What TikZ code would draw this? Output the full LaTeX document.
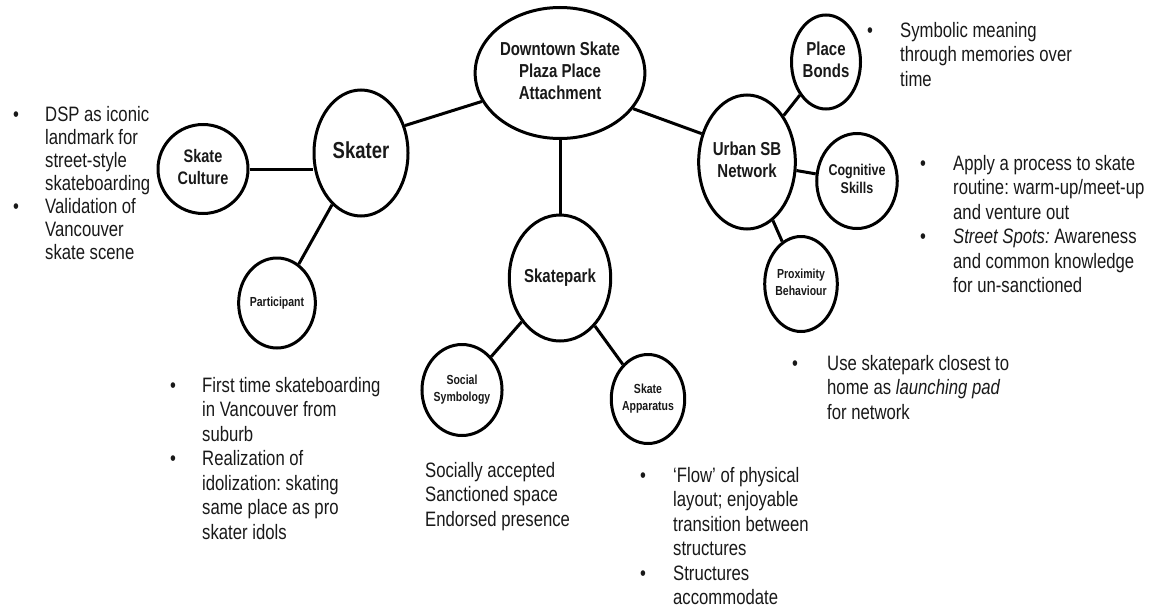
\documentclass[tikz,border=0pt]{standalone}
\usepackage{fontspec}
\setmainfont{Liberation Sans}
\usepackage{graphicx}
\usepackage{tikz}
\usetikzlibrary{shapes.geometric}
\definecolor{ink}{RGB}{25,25,25}
\frenchspacing
\newcommand{\bul}[1][32pt]{\makebox[#1][l]{\textbullet}}
\newcommand{\tall}[1]{\scalebox{1}[1.25]{\begin{tabular}{@{}c@{}}#1\end{tabular}}}
\newcommand{\talllist}[1]{\scalebox{1}[1.25]{\begin{tabular}[t]{@{}l@{}l@{}}#1\end{tabular}}}

\begin{document}
\begin{tikzpicture}[x=1pt,y=-1pt,
    bubble/.style={ellipse,draw=black,line width=3pt,inner sep=0pt,text=ink},
    link/.style={line width=3pt},
    notes/.style={anchor=base west,inner sep=0pt,text=ink,font=\fontsize{16.7}{19.6}\selectfont}]
  \useasboundingbox (0,0) rectangle (1153,613);
  \node[bubble,minimum width=153,minimum height=131,font=\fontsize{15}{17.6}\selectfont\bfseries] (dsp) at (560,73) {\tall{Downtown Skate\\Plaza Place\\Attachment}};
  \node[bubble,minimum width=94,minimum height=126,font=\fontsize{18.5}{18}\selectfont\bfseries] (skater) at (361,153) {\tall{Skater}};
  \node[bubble,minimum width=90,minimum height=89,font=\fontsize{14.5}{17.6}\selectfont\bfseries] (culture) at (203,169) {\tall{Skate\\Culture}};
  \node[bubble,minimum width=70,minimum height=90,font=\fontsize{10.5}{13}\selectfont\bfseries] (part) at (277,303) {\tall{Participant}};
  \node[bubble,minimum width=90,minimum height=126,font=\fontsize{15}{17.6}\selectfont\bfseries] (park) at (560,278) {\tall{Skatepark}};
  \node[bubble,minimum width=72,minimum height=91,font=\fontsize{10.5}{13.6}\selectfont\bfseries] (social) at (462,390) {\tall{Social\\Symbology}};
  \node[bubble,minimum width=70,minimum height=89,font=\fontsize{10.5}{13.6}\selectfont\bfseries] (app) at (648,399) {\tall{Skate\\Apparatus}};
  \node[bubble,minimum width=87,minimum height=134,font=\fontsize{15}{17.6}\selectfont\bfseries] (urban) at (747,162) {\tall{Urban SB\\Network}};
  \node[bubble,minimum width=69,minimum height=94,font=\fontsize{15}{17.6}\selectfont\bfseries] (bonds) at (826,62) {\tall{Place\\Bonds}};
  \node[bubble,minimum width=64,minimum height=95,font=\fontsize{12.5}{14.4}\selectfont\bfseries] (cog) at (857,181) {\tall{Cognitive\\Skills}};
  \node[bubble,minimum width=69,minimum height=95,font=\fontsize{10.5}{13.6}\selectfont\bfseries] (prox) at (801,284) {\tall{Proximity\\Behaviour}};

  \draw[link] (dsp.200) -- (skater.32);
  \draw[link] (dsp) -- (park);
  \draw[link] (dsp.334) -- (urban.148);
  \draw[link] (culture.east) -- (culture.east -| skater.west);
  \draw[link] (skater) -- (part);
  \draw[link] (park) -- (social);
  \draw[link] (park) -- (app);
  \draw[link] (urban) -- (bonds);
  \draw[link] (urban) -- (cog);
  \draw[link] (urban) -- (prox);

  \node[notes,font=\fontsize{16.7}{18.4}\selectfont] (culturenote) at (13,121) {\talllist{
    \bul & DSP as iconic\\ & landmark for\\ & street-style\\ & skateboarding\\
    \bul & Validation of\\ & Vancouver\\ & skate scene}};
  \node[notes] (partnote) at (170,392) {\talllist{
    \bul & First time skateboarding\\ & in Vancouver from\\ & suburb\\
    \bul & Realization of\\ & idolization: skating\\ & same place as pro\\ & skater idols}};
  \node[notes] (socialnote) at (425,477) {\talllist{
    & Socially accepted\\ & Sanctioned space\\ & Endorsed presence}};
  \node[notes] (appnote) at (640,482) {\talllist{
    \bul[33pt] & ‘Flow’ of physical\\ & layout; enjoyable\\ & transition between\\ & structures\\
    \bul[33pt] & Structures\\ & accommodate}};
  \node[notes] (proxnote) at (792,370) {\talllist{
    \bul[35pt] & Use skatepark closest to\\ & home as \textit{launching pad}\\ & for network}};
  \node[notes] (cognote) at (920,170) {\talllist{
    \bul[33pt] & Apply a process to skate\\ & routine: warm-up/meet-up\\ & and venture out\\
    \bul[33pt] & \textit{Street Spots:} Awareness\\ & and common knowledge\\ & for un-sanctioned}};
  \node[notes] (bondsnote) at (867,37) {\talllist{
    \bul[33pt] & Symbolic meaning\\ & through memories over\\ & time}};
\end{tikzpicture}
\end{document}
